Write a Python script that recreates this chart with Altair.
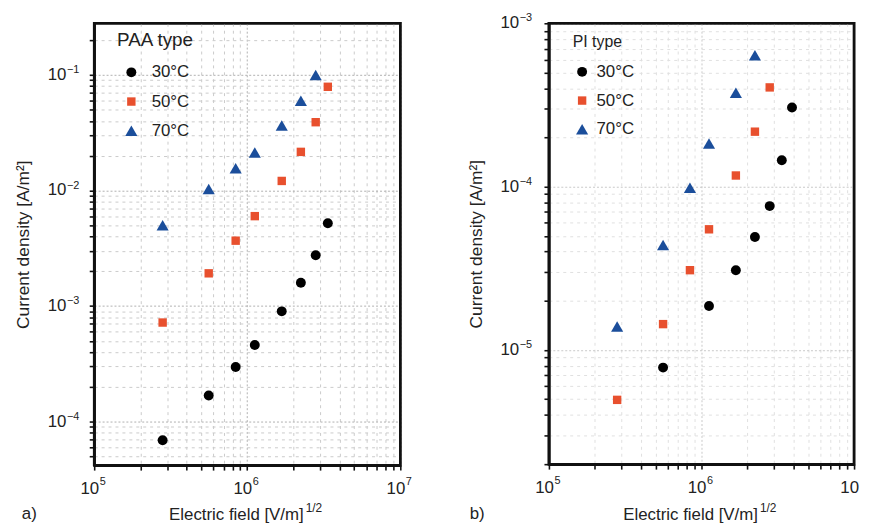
import math
import altair as alt
import pandas as pd

FONT = "Liberation Sans"
TXT = "#222"
series = ["30°C", "50°C", "70°C"]
colors = ["#000000", "#E8502E", "#1B4E9B"]
shapes = ["circle", "square", "triangle-up"]

# ---- (a) PAA type ----
paa_x_30 = [2.8e5, 5.6e5, 8.4e5, 1.12e6, 1.68e6, 2.24e6, 2.8e6, 3.36e6]
paa_y_30 = [6.9e-5, 1.68e-4, 2.97e-4, 4.6e-4, 9.0e-4, 1.59e-3, 2.75e-3, 5.2e-3]
paa_x_50 = [2.8e5, 5.6e5, 8.4e5, 1.12e6, 1.68e6, 2.24e6, 2.8e6, 3.36e6]
paa_y_50 = [7.2e-4, 1.92e-3, 3.68e-3, 6.0e-3, 1.21e-2, 2.16e-2, 3.9e-2, 7.9e-2]
paa_x_70 = [2.8e5, 5.6e5, 8.4e5, 1.12e6, 1.68e6, 2.24e6, 2.8e6]
paa_y_70 = [5.0e-3, 1.03e-2, 1.56e-2, 2.13e-2, 3.65e-2, 5.97e-2, 1.0e-1]

# ---- (b) PI type ----
pi_x_30 = [5.6e5, 1.12e6, 1.68e6, 2.24e6, 2.8e6, 3.36e6, 3.92e6]
pi_y_30 = [7.8e-6, 1.86e-5, 3.08e-5, 4.92e-5, 7.6e-5, 1.45e-4, 3.05e-4]
pi_x_50 = [2.8e5, 5.6e5, 8.4e5, 1.12e6, 1.68e6, 2.24e6, 2.8e6]
pi_y_50 = [4.95e-6, 1.44e-5, 3.08e-5, 5.48e-5, 1.17e-4, 2.17e-4, 4.05e-4]
pi_x_70 = [2.8e5, 5.6e5, 8.4e5, 1.12e6, 1.68e6, 2.24e6]
pi_y_70 = [1.39e-5, 4.39e-5, 9.86e-5, 1.84e-4, 3.75e-4, 6.37e-4]

x_domain = [1e5, 1e7]
paa_y_domain = [4.2e-5, 0.28]
pi_y_domain = [2e-6, 1e-3]

x_decades = [1e5, 1e6, 1e7]
paa_y_decades = [1e-4, 1e-3, 1e-2, 1e-1]
pi_y_decades = [1e-5, 1e-4, 1e-3]

x_title = "Electric field [V/m]"
x_title_sup = "1/2"
y_title = "Current density [A/m²]"


def make_df(groups):
    rows = []
    for name, xs, ys in groups:
        for xv, yv in zip(xs, ys):
            rows.append({"E": xv, "J": yv, "T": name})
    return pd.DataFrame(rows)


paa_df = make_df([(series[0], paa_x_30, paa_y_30), (series[1], paa_x_50, paa_y_50),
                  (series[2], paa_x_70, paa_y_70)])
pi_df = make_df([(series[0], pi_x_30, pi_y_30), (series[1], pi_x_50, pi_y_50),
                 (series[2], pi_x_70, pi_y_70)])


def dec_df(vals, col):
    exps = [round(math.log10(v)) for v in vals]
    return pd.DataFrame({col: vals, "e": [("−" if e < 0 else "") + str(abs(e)) for e in exps]})


def log_ticks(lo, hi):
    out = []
    for e in range(-8, 9):
        for m in range(1, 10):
            v = m * 10.0 ** e
            if lo * 0.999 <= v <= hi * 1.001:
                out.append(v)
    return out


MAJ = "abs(log(datum.value)/LN10 - round(log(datum.value)/LN10)) < 0.01"


def axis(values, title, title_pad, grid_major, grid_minor):
    kw = dict(
        values=values, labels=False,
        domain=True, domainColor="#111", domainWidth=2.5,
        ticks=True, tickColor="#111", tickWidth=1.6, tickSize=5,
        grid=True, gridWidth=1,
        gridColor={"condition": {"test": MAJ, "value": grid_major}, "value": grid_minor},
        gridDash={"condition": {"test": MAJ, "value": [2, 2]}, "value": [3, 4]},
    )
    if title:
        kw.update(title=title, titleFont=FONT, titleFontSize=17.5, titleFontWeight="normal",
                  titleColor=TXT, titlePadding=title_pad)
    else:
        kw.update(title=None)
    return alt.Axis(**kw)


def legend(title, lx, ly, sym_off, lab_off, row_pad, title_pad, title_size):
    return alt.Legend(
        title=title, orient="none", legendX=lx, legendY=ly, direction="vertical",
        titleFont=FONT, titleFontSize=title_size, titleFontWeight="normal", titleColor=TXT,
        labelFont=FONT, labelFontSize=17, labelColor=TXT,
        symbolSize=75, symbolOffset=sym_off, labelOffset=lab_off, rowPadding=row_pad,
        titlePadding=title_pad, symbolStrokeWidth=0,
    )


def panel(df, ydom, ydec, leg, w, h, ytitle_pad, ylab_x, gmaj, gmin, tag, tag_x,
          title_y, sup_max):
    xs = alt.Scale(type="log", domain=x_domain, nice=False)
    ys = alt.Scale(type="log", domain=ydom, nice=False)
    pts = alt.Chart(df).mark_point(filled=True, opacity=1).encode(
        x=alt.X("E:Q", scale=xs, axis=axis(log_ticks(*x_domain), None, 0, gmaj, gmin)),
        y=alt.Y("J:Q", scale=ys, axis=axis(log_ticks(*ydom), y_title, ytitle_pad, gmaj, gmin)),
        color=alt.Color("T:N", scale=alt.Scale(domain=series, range=colors), legend=leg),
        shape=alt.Shape("T:N", scale=alt.Scale(domain=series, range=shapes), legend=leg),
        size=alt.Size("T:N", scale=alt.Scale(type="ordinal", domain=series, range=[100, 72, 150]),
                      legend=None),
    )
    frame = alt.Chart(pd.DataFrame({"f": [0]})).mark_rect(
        filled=False, stroke="#111", strokeWidth=2.5
    ).encode(x=alt.value(0), x2=alt.value(w), y=alt.value(0), y2=alt.value(h))

    xd = dec_df(x_decades, "E")
    xd_sup = xd[xd["E"] <= sup_max]
    yd = dec_df(ydec, "J")
    x10 = alt.Chart(xd).mark_text(align="right", baseline="middle", font=FONT, fontSize=17,
                                  color=TXT, dx=5).encode(
        x=alt.X("E:Q", scale=xs), y=alt.value(h + 24), text=alt.value("10"))
    xsup = alt.Chart(xd_sup).mark_text(align="left", baseline="middle", font=FONT, fontSize=11,
                                       color=TXT, dx=5.5).encode(
        x=alt.X("E:Q", scale=xs), y=alt.value(h + 17), text="e:N")
    y10 = alt.Chart(yd).mark_text(align="right", baseline="middle", font=FONT, fontSize=17,
                                  color=TXT).encode(
        x=alt.value(ylab_x), y=alt.Y("J:Q", scale=ys), text=alt.value("10"))
    ysup = alt.Chart(yd).mark_text(align="left", baseline="middle", font=FONT, fontSize=11,
                                   color=TXT, dx=0.5, dy=-5).encode(
        x=alt.value(ylab_x), y=alt.Y("J:Q", scale=ys), text="e:N")

    xt = alt.Chart(pd.DataFrame({"t": [x_title], "s": [x_title_sup]}))
    xtitle = xt.mark_text(align="right", baseline="middle", font=FONT, fontSize=17,
                          color=TXT).encode(x=alt.value(w / 2 + 57), y=alt.value(title_y), text="t:N")
    xtsup = xt.mark_text(align="left", baseline="middle", font=FONT, fontSize=12,
                         color=TXT).encode(x=alt.value(w / 2 + 59), y=alt.value(title_y - 7),
                                           text="s:N")
    lab = alt.Chart(pd.DataFrame({"t": [tag]})).mark_text(
        align="left", baseline="middle", font=FONT, fontSize=17, color=TXT
    ).encode(x=alt.value(tag_x), y=alt.value(title_y - 1), text="t:N")
    return alt.layer(pts, frame, x10, xsup, y10, ysup, xtitle, xtsup, lab).properties(
        width=w, height=h)


left = panel(paa_df, paa_y_domain, paa_y_decades,
             legend("PAA type", 23, 8, 6, 12, 11.5, 14, 19), 309, 446, 56, -28,
             "#b0b0b0", "#cacaca", "a)", -73, 496, 1e7)
right = panel(pi_df, pi_y_domain, pi_y_decades,
              legend("PI type", 24, 10.5, 1, 6, 11, 14, 16), 308, 445, 58, -30,
              "#c8c8c8", "#e0e0e0", "b)", -80, 496, 1e6)

chart = alt.hconcat(left, right, spacing=53).resolve_scale(
    color="independent", shape="independent", size="independent"
).configure_view(stroke="#111", strokeWidth=2.5).properties(
    padding={"left": 5, "top": 0, "right": 0, "bottom": 0}, background="white"
)

chart.save("out.html", embed_options={"renderer": "svg", "actions": False})
